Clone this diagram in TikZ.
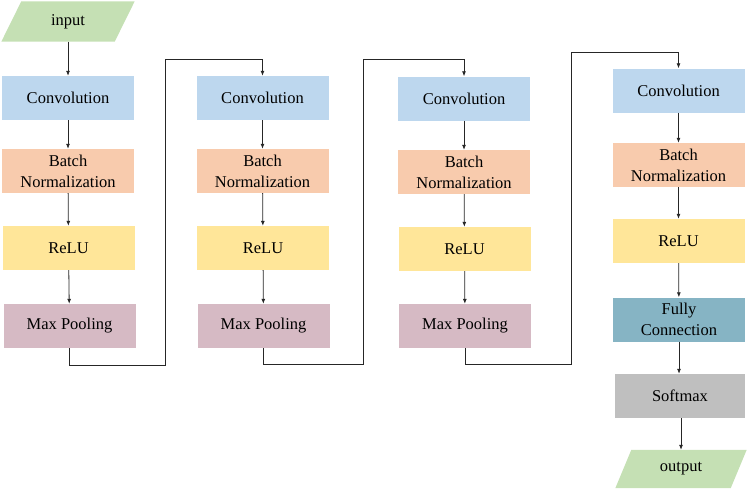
\documentclass[tikz,border=0pt]{standalone}
\usepackage{fontspec}
\setmainfont{Liberation Serif}
\usetikzlibrary{arrows.meta,backgrounds,calc}
\definecolor{convc}{HTML}{BDD7EE}
\definecolor{bnc}{HTML}{F8CBAD}
\definecolor{reluc}{HTML}{FFE699}
\definecolor{mpc}{HTML}{D6BAC4}
\definecolor{fcc}{HTML}{86B4C4}
\definecolor{smc}{HTML}{BFBFBF}
\definecolor{ioc}{HTML}{C5E0B4}
\definecolor{linec}{HTML}{262626}
\begin{document}
\begin{tikzpicture}[x=1pt,y=-1pt,
  every node/.style={font=\rmfamily\fontsize{16.5}{21}\selectfont, text=black, align=center, inner sep=0pt},
  blk/.style={minimum width=132, minimum height=44},
  conv/.style={blk, fill=convc},
  bn/.style={blk, fill=bnc},
  relu/.style={blk, fill=reluc},
  mp/.style={blk, fill=mpc},
  fc/.style={blk, fill=fcc},
  sm/.style={blk, fill=smc, minimum width=130},
  io/.style={minimum width=113, minimum height=40},
  arr/.style={draw=linec, line width=0.8pt, -{Latex[length=5pt,width=4pt]}}
]
\useasboundingbox (0,0) rectangle (749,491);
% input
\node[io] (in) at (68,21.5) {input};
% column 1
\node[conv] (cv1) at (68,98) {Convolution};
\node[bn] (bn1) at (68,171) {Batch\\Normalization};
\node[relu] (re1) at (68.5,248) {ReLU};
\node[mp] (mp1) at (69.5,326) {Max Pooling};
% column 2
\node[conv] (cv2) at (262.5,98) {Convolution};
\node[bn] (bn2) at (262.5,171) {Batch\\Normalization};
\node[relu] (re2) at (263,248) {ReLU};
\node[mp] (mp2) at (263.5,326) {Max Pooling};
% column 3
\node[conv] (cv3) at (464,98.5) {Convolution};
\node[bn] (bn3) at (464,172) {Batch\\Normalization};
\node[relu] (re3) at (464.5,249) {ReLU};
\node[mp] (mp3) at (465,326) {Max Pooling};
% column 4
\node[conv] (cv4) at (678.5,90.5) {Convolution};
\node[bn] (bn4) at (678.5,165) {Batch\\Normalization};
\node[relu] (re4) at (678.5,241) {ReLU};
\node[fc] (fc4) at (679,319.5) {Fully\\Connection};
\node[sm] (sm4) at (680,396) {Softmax};
\node[io, minimum width=115, minimum height=38] (out) at (681,469) {output};
% parallelograms
\begin{scope}[on background layer]
\fill[ioc] ([xshift=10]in.north west) -- ([xshift=10]in.north east) -- ([xshift=-10]in.south east) -- ([xshift=-10]in.south west) -- cycle;
\fill[ioc] ([xshift=8]out.north west) -- ([xshift=8]out.north east) -- ([xshift=-8]out.south east) -- ([xshift=-8]out.south west) -- cycle;
\end{scope}
% column arrows
\draw[arr] (in.south) -- (cv1.north);
\draw[arr] (cv1) -- (bn1);
\draw[arr] (bn1) -- (re1);
\draw[arr] (re1) -- (mp1);
\draw[arr] (cv2) -- (bn2);
\draw[arr] (bn2) -- (re2);
\draw[arr] (re2) -- (mp2);
\draw[arr] (cv3) -- (bn3);
\draw[arr] (bn3) -- (re3);
\draw[arr] (re3) -- (mp3);
\draw[arr] (cv4) -- (bn4);
\draw[arr] (bn4) -- (re4);
\draw[arr] (re4) -- (fc4);
\draw[arr] (fc4.south) -- (sm4.north -| fc4.south);
\draw[arr] (sm4.south -| out.north) -- (out.north);
% loops
\coordinate (l1b) at (165,365);
\coordinate (l1t) at (165,59);
\coordinate (l2b) at (363,364);
\coordinate (l2t) at (363,59);
\coordinate (l3b) at (571,364);
\coordinate (l3t) at (571,52);
\draw[arr] (mp1.south) |- (l1b) -- (l1t) -| (cv2.north);
\draw[arr] (mp2.south) |- (l2b) -- (l2t) -| (cv3.north);
\draw[arr] (mp3.south) |- (l3b) -- (l3t) -| (cv4.north);
\end{tikzpicture}
\end{document}
